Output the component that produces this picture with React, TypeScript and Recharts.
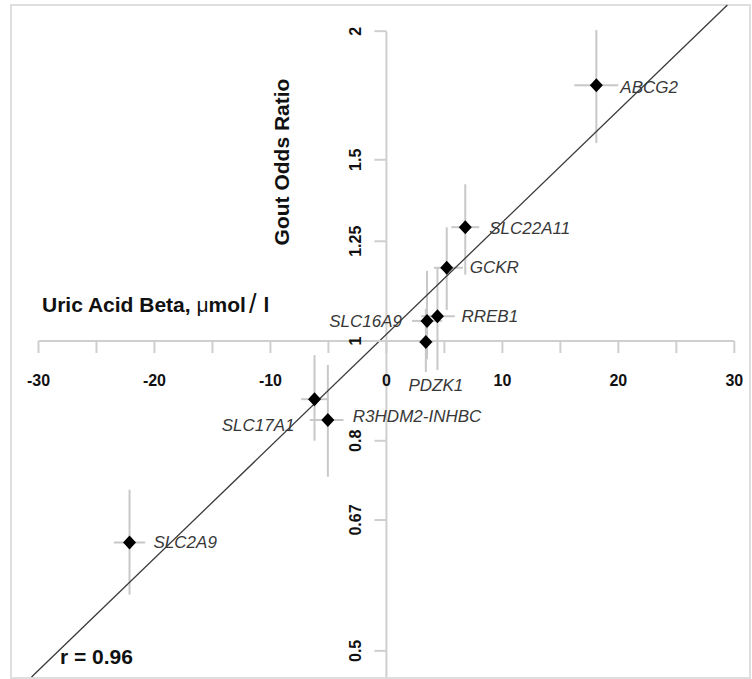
import { ScatterChart, Scatter, XAxis, YAxis, ErrorBar, ReferenceLine } from 'recharts';

// genes and their estimates (uric acid beta vs gout odds ratio)
const genes = ['ABCG2', 'SLC22A11', 'GCKR', 'RREB1', 'SLC16A9', 'PDZK1', 'SLC17A1', 'R3HDM2-INHBC', 'SLC2A9'];
const betaValues = [18.1, 6.8, 5.2, 4.4, 3.5, 3.4, -6.2, -5.05, -22.15];
const betaLow = [16.2, 5.6, 4.1, 3.0, 2.2, 2.8, -7.35, -6.6, -23.5];
const betaHigh = [20.0, 8.0, 6.6, 5.9, 4.8, 4.0, -5.1, -3.7, -20.8];
const orValues = [1.772, 1.29, 1.178, 1.057, 1.046, 0.998, 0.878, 0.838, 0.637];
const orLow = [1.557, 1.16, 1.072, 0.937, 0.96, 0.933, 0.8, 0.738, 0.567];
const orHigh = [2.005, 1.42, 1.29, 1.18, 1.17, 1.075, 0.969, 0.948, 0.717];

const xTicks = [-30, -25, -20, -15, -10, -5, 0, 5, 10, 15, 20, 25, 30];
const xTickLabels = [-30, -20, -10, 0, 10, 20, 30];
const yTicks = [0.5, 0.67, 0.8, 1, 1.25, 1.5, 2];
const yTickLabels = ['0.5', '0.67', '0.8', '1', '1.25', '1.5', '2'];

// fitted line end points (where it meets the frame)
const fitLine = [
  { x: -30.6, y: 0.4716 },
  { x: 29.4, y: 2.1206 },
];

const X_DOMAIN: [number, number] = [-32.37, 31.35];
const Y_DOMAIN: [number, number] = [0.4716, 2.1206];

const data = genes.map((g, i) => ({
  gene: g,
  beta: betaValues[i],
  or: orValues[i],
  betaErr: [betaValues[i] - betaLow[i], betaHigh[i] - betaValues[i]],
  orErr: [orValues[i] - orLow[i], orHigh[i] - orValues[i]],
}));

const xTickData = xTicks.map((t) => ({ beta: t, or: 1 }));
const yTickData = yTicks.map((v) => ({ beta: 0, or: v }));

// where each gene label sits relative to its point
const labelPlacement: Record<string, { dx: number; dy: number; anchor: 'start' | 'middle' | 'end' }> = {
  ABCG2: { dx: 24, dy: 2, anchor: 'start' },
  SLC22A11: { dx: 24, dy: 1, anchor: 'start' },
  GCKR: { dx: 23, dy: 0, anchor: 'start' },
  RREB1: { dx: 24, dy: 0, anchor: 'start' },
  SLC16A9: { dx: -25, dy: 1, anchor: 'end' },
  PDZK1: { dx: 10, dy: 44, anchor: 'middle' },
  SLC17A1: { dx: -20, dy: 26, anchor: 'end' },
  'R3HDM2-INHBC': { dx: 25, dy: -4, anchor: 'start' },
  SLC2A9: { dx: 24, dy: 0, anchor: 'start' },
};

const FONT = '"Liberation Sans", Arial, sans-serif';
const AXIS_GRAY = '#cfcfcf';

const XTickShape = (props: any) => {
  const { cx, cy, payload } = props;
  const labeled = xTickLabels.includes(payload.beta);
  return (
    <g>
      <line x1={cx} y1={cy} x2={cx} y2={cy + 12} stroke={AXIS_GRAY} strokeWidth={2} />
      {labeled && (
        <text x={cx} y={cy + 39} textAnchor="middle" dominantBaseline="central"
          fontFamily={FONT} fontWeight="bold" fontSize={16} fill="#111">
          {payload.beta}
        </text>
      )}
    </g>
  );
};

const YTickShape = (props: any) => {
  const { cx, cy, payload } = props;
  const label = yTickLabels[yTicks.indexOf(payload.or)];
  const lx = cx - 31;
  return (
    <g>
      <line x1={cx - 12} y1={cy} x2={cx} y2={cy} stroke={AXIS_GRAY} strokeWidth={2} />
      <text x={lx} y={cy} textAnchor="middle" dominantBaseline="central"
        transform={`rotate(-90, ${lx}, ${cy})`}
        fontFamily={FONT} fontWeight="bold" fontSize={16} fill="#111">
        {label}
      </text>
    </g>
  );
};

const GeneShape = (props: any) => {
  const { cx, cy, payload } = props;
  const p = labelPlacement[payload.gene];
  return (
    <g>
      <polygon
        points={`${cx},${cy - 7} ${cx + 6.5},${cy} ${cx},${cy + 7} ${cx - 6.5},${cy}`}
        fill="#000"
      />
      <text x={cx + p.dx} y={cy + p.dy} textAnchor={p.anchor} dominantBaseline="central"
        fontFamily={FONT} fontStyle="italic" fontSize={17} fill="#383838">
        {payload.gene}
      </text>
    </g>
  );
};

export default function App() {
  return (
    <div style={{ position: 'relative', width: 752, height: 679 }}>
      <style>{'body{margin:0}'}</style>
      <div
        style={{
          position: 'absolute', left: 10, top: 4, width: 741, height: 675,
          boxSizing: 'border-box', border: '2px solid #dedede',
        }}
      />
      <ScatterChart width={752} height={679} margin={{ top: 5, right: 2, bottom: 2, left: 11 }}>
        <XAxis type="number" dataKey="beta" domain={X_DOMAIN} allowDataOverflow hide />
        <YAxis type="number" dataKey="or" scale="log" domain={Y_DOMAIN} allowDataOverflow hide />
        <ReferenceLine
          segment={[{ x: -30, y: 1 }, { x: 30, y: 1 }]}
          stroke={AXIS_GRAY} strokeWidth={2} ifOverflow="visible"
        />
        <ReferenceLine
          segment={[{ x: 0, y: 2 }, { x: 0, y: Y_DOMAIN[0] }]}
          stroke={AXIS_GRAY} strokeWidth={2} ifOverflow="visible"
        />
        <Scatter data={xTickData} shape={XTickShape} isAnimationActive={false} />
        <Scatter data={yTickData} shape={YTickShape} isAnimationActive={false} />
        <Scatter data={data} shape={GeneShape} isAnimationActive={false}>
          <ErrorBar dataKey="orErr" direction="y" width={0} stroke="#c8c8c8" strokeWidth={2} isAnimationActive={false} />
          <ErrorBar dataKey="betaErr" direction="x" width={0} stroke="#c8c8c8" strokeWidth={2} isAnimationActive={false} />
        </Scatter>
        <ReferenceLine
          segment={[fitLine[0], fitLine[1]]}
          stroke="#3a3a3a" strokeWidth={1.3} ifOverflow="visible"
        />
      </ScatterChart>
      <svg width={752} height={679} style={{ position: 'absolute', left: 0, top: 0, pointerEvents: 'none' }}>
        <text x={281} y={162} textAnchor="middle" dominantBaseline="central"
          transform="rotate(-90, 281, 162)"
          fontFamily={FONT} fontWeight="bold" fontSize={21} fill="#111">
          Gout Odds Ratio
        </text>
        <text x={42} y={304} dominantBaseline="central" fontFamily={FONT} fontWeight="bold" fontSize={21} fill="#111">
          {'Uric Acid Beta, '}
          <tspan fontWeight="normal">μ</tspan>
          <tspan>mol</tspan>
          <tspan dx={3} fontWeight="normal" fontSize={27}>/</tspan>
          <tspan dx={7}>l</tspan>
        </text>
        <text x={60} y={656} dominantBaseline="central" fontFamily={FONT} fontWeight="bold" fontSize={21} fill="#111">
          r = 0.96
        </text>
      </svg>
    </div>
  );
}
